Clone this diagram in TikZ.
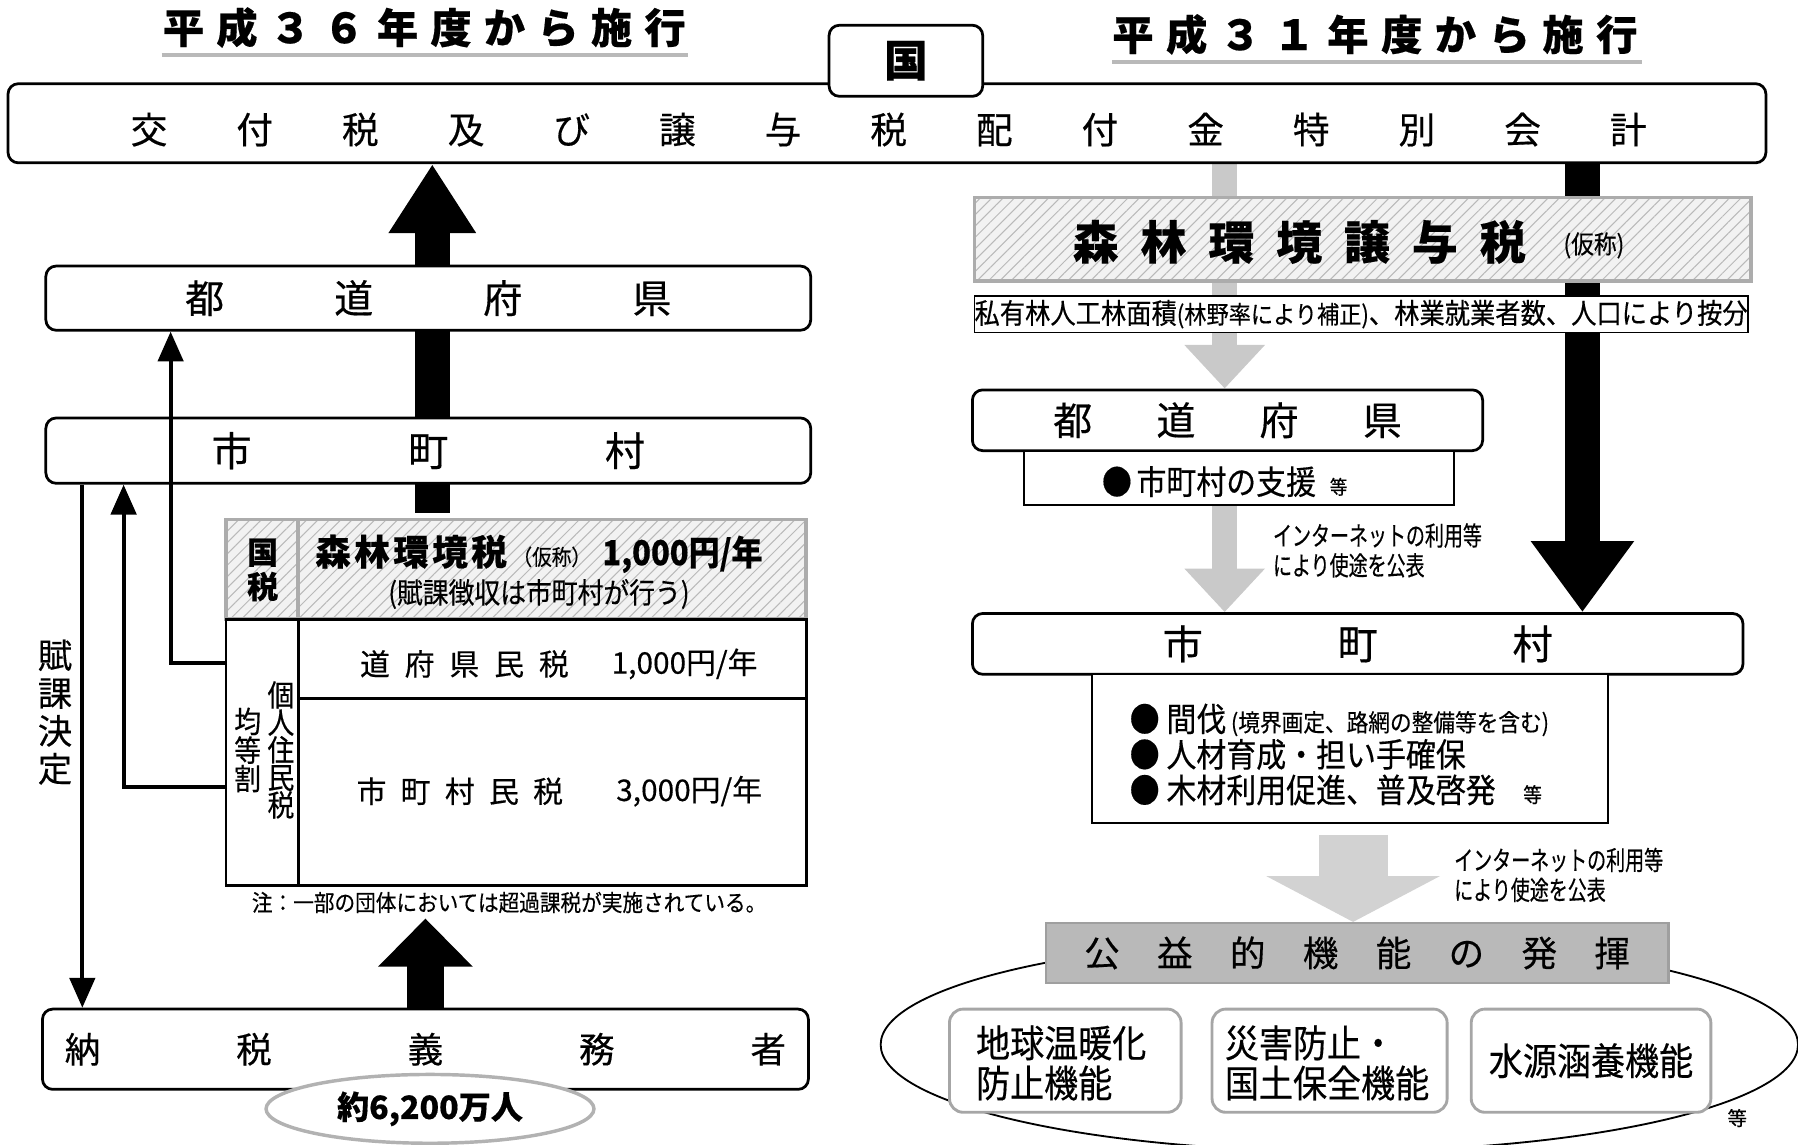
\documentclass[tikz,border=0pt]{standalone}
\usepackage{fontspec}
\setmainfont{Noto Sans CJK JP}[FakeBold=0.4]
\newfontfamily\jpn{Noto Sans CJK JP}[FakeStretch=0.9,FakeBold=0.4]
\newfontfamily\jpc{Noto Sans CJK JP}[FakeStretch=0.72,FakeBold=0.4]
\usetikzlibrary{arrows.meta,patterns.meta,backgrounds,calc,shapes.geometric}
\newcommand{\fs}[1]{\fontsize{#1}{#1}\selectfont}
\newcommand{\fsz}[2]{\fontsize{#1}{#2}\selectfont}
\begin{document}
\begin{tikzpicture}[x=1pt,y=-1pt,
  rbox/.style={draw, line width=2.4pt, rounded corners=9pt, fill=white, inner sep=0pt},
  sbox/.style={draw, line width=2.4pt, fill=white, inner sep=0pt},
  hatch/.style={draw=gray!65, line width=3pt, preaction={fill=gray!10}, pattern={Lines[angle=45,distance=7pt,line width=0.9pt]}, pattern color=gray!55, inner sep=0pt},
  fbox/.style={draw=gray!70, line width=2.5pt, rounded corners=12pt, fill=white, inner sep=0pt},
  txt/.style={inner sep=0pt},
  thinarr/.style={line width=3.5pt, -{Triangle[width=22pt,length=26pt]}},
  blkarr/.style={line width=30pt, -{Triangle[width=72pt,length=60pt]}},
  blkarrb/.style={line width=32pt, -{Triangle[width=80pt,length=42pt]}},
  blkarrc/.style={line width=30pt, -{Triangle[width=86pt,length=62pt]}},
  garr/.style={draw=gray!42, line width=22pt, -{Triangle[width=68pt,length=38pt]}},
  garrb/.style={draw=gray!35, line width=60pt, -{Triangle[width=150pt,length=40pt]}},
  uline/.style={draw=gray!55, line width=4pt}
]
\useasboundingbox (0,0) rectangle (1568,998);

% titles
\node[txt, font=\bfseries\fs{36}] (t36) at (370,24) {\makebox[456pt]{平\hfill 成\hfill ３\hfill ６\hfill 年\hfill 度\hfill か\hfill ら\hfill 施\hfill 行}};
\draw[uline] (141,48) -- (600,48);
\node[txt, font=\bfseries\fs{36}] (t31) at (1199,30) {\makebox[458pt]{平\hfill 成\hfill ３\hfill １\hfill 年\hfill 度\hfill か\hfill ら\hfill 施\hfill 行}};
\draw[uline] (970,54) -- (1432,54);

% top account box
\node[rbox, minimum width=1533pt, minimum height=69pt] (big) at (773.5,107.5) {};
\node[txt, font=\fs{32}] (bigtxt) at (775,113) {\makebox[1322pt]{交\hfill 付\hfill 税\hfill 及\hfill び\hfill 譲\hfill 与\hfill 税\hfill 配\hfill 付\hfill 金\hfill 特\hfill 別\hfill 会\hfill 計}};
\node[rbox, minimum width=134pt, minimum height=62pt, font=\bfseries\fs{38}] (kuni) at (790,53) {国};

% left boxes
\node[rbox, minimum width=667pt, minimum height=56pt] (todoL) at (373.5,260) {\fs{34}\makebox[424pt]{都\hfill 道\hfill 府\hfill 県}};
\node[rbox, minimum width=667pt, minimum height=57pt] (shiL) at (373.5,393) {\fs{35}\makebox[378pt]{市\hfill 町\hfill 村}};

% tax table
\node[hatch, minimum width=63pt, minimum height=87pt] (kokuzei) at (228.5,496.5) {};
\node[txt, font=\bfseries\fsz{27}{30}, align=center] (kokuzeiT) at (229,497) {国\\税};
\node[hatch, minimum width=443pt, minimum height=87pt] (shinrinzei) at (481.5,496.5) {};
\node[txt] (szT1) at (470,483) {{\bfseries\fs{31}森\hspace{3pt}林\hspace{3pt}環\hspace{3pt}境\hspace{3pt}税}\hspace{5pt}{\jpn\fs{19}（仮称）}\hspace{10pt}{\bfseries\jpn\fs{30}1,000円/年}};
\node[txt, font=\jpn\fs{25}] (szT2) at (470,518) {(賦課徴収は市町村が行う)};
\node[sbox, minimum width=63pt, minimum height=232pt] (kinto) at (228.5,656) {};
\node[sbox, minimum width=443pt, minimum height=69pt] (dofu) at (481.5,574.5) {};
\node[sbox, minimum width=443pt, minimum height=163pt] (shizei) at (481.5,690.5) {};
\node[txt, font=\fs{26}] (dofuT) at (405,579) {\makebox[182pt]{道\hfill 府\hfill 県\hfill 民\hfill 税}};
\node[txt, font=\fs{26}] (dofuY) at (597,579) {1,000円/年};
\node[txt, font=\fs{26}] (shiT) at (401,690) {\makebox[180pt]{市\hfill 町\hfill 村\hfill 民\hfill 税}};
\node[txt, font=\fs{26}] (shiY) at (601,690) {3,000円/年};
\node[txt, font=\jpn\fsz{26}{24}, align=center] (kojin) at (245,654) {個\\人\\住\\民\\税};
\node[txt, font=\jpn\fsz{26}{23}, align=center] (kinT) at (216,654) {均\\等\\割};
\node[txt, font=\jpn\fs{20}] (note) at (444,787) {注：一部の団体においては超過課税が実施されている。};

% taxpayers
\node[rbox, minimum width=668pt, minimum height=70pt] (nozei) at (371,915) {\fs{31}\makebox[629pt]{納\hfill 税\hfill 義\hfill 務\hfill 者}};
\node[draw=gray!60, line width=3pt, fill=white, ellipse, minimum width=286pt, minimum height=60pt, inner sep=0pt, font=\bfseries\fs{28}] (ninzu) at (375,967) {約6,200万人};
\node[txt, font=\fsz{30}{33}, align=center] (fuka) at (48,621) {賦\\課\\決\\定};

% left thin arrows
\coordinate (r1) at (198,578);
\coordinate (r1t) at ($(todoL.south west)+(110,0)$);
\draw[thinarr] (r1) -| (r1t);
\coordinate (r2) at (198,686);
\coordinate (r2t) at ($(shiL.south west)+(69,0)$);
\draw[thinarr] (r2) -| (r2t);
\coordinate (f0) at ($(shiL.south west)+(33,0)$);
\draw[thinarr] (f0) -- (f0 |- nozei.north);

% right side
\node[hatch, minimum width=677pt, minimum height=73pt] (shinrinjoyo) at (1188.5,208.5) {};
\node[txt, font=\bfseries\fs{40}] (sjT) at (1133,211) {\makebox[395pt]{森\hfill 林\hfill 環\hfill 境\hfill 譲\hfill 与\hfill 税}};
\node[txt, font=\jpn\fs{22}] (sjK) at (1390,214) {(仮称)};
\node[draw, line width=1.5pt, fill=white, inner sep=0pt, minimum width=674pt, minimum height=32pt] (anbun) at (1187,274) {\jpn\fs{24.5}私有林人工林面積{\fs{21.5}(林野率により補正)}、林業就業者数、人口により按分};

\node[rbox, minimum width=445pt, minimum height=53pt] (todoR) at (1070.5,366.5) {\fs{34}\makebox[304pt]{都\hfill 道\hfill 府\hfill 県}};
\node[sbox, line width=1.8pt, minimum width=375pt, minimum height=47pt] (sub1) at (1080.5,416.5) {};
\node[txt, font=\jpn\fs{29}] (sub1T) at (1068,420) {●\hspace{4pt}市町村の支援\hspace{12pt}{\fs{17}等}};
\node[txt, anchor=west, align=left, font=\jpc\fsz{23}{26}] (net1) at (1110,480) {インターネットの利用等\\により使途を公表};

\node[rbox, minimum width=672pt, minimum height=53pt] (shiR) at (1184,561.5) {\fs{35}\makebox[340pt]{市\hfill 町\hfill 村}};
\node[sbox, line width=1.8pt, minimum width=450pt, minimum height=130pt] (sub2) at (1177,653) {};
\node[txt, anchor=west, align=left, font=\jpn\fsz{29}{31}] (sub2T) at (985,658) {●\hspace{6pt}間伐\hspace{4pt}{\fs{21}(境界画定、路網の整備等を含む)}\\●\hspace{6pt}人材育成・担い手確保\\●\hspace{6pt}木材利用促進、普及啓発\hspace{24pt}{\fs{18}等}};
\node[txt, anchor=west, align=left, font=\jpc\fsz{23}{26}] (net2) at (1268,763) {インターネットの利用等\\により使途を公表};

\node[draw, ellipse, line width=1.6pt, minimum width=800pt, minimum height=186pt, inner sep=0pt] (oval) at (1168,911) {};
\node[draw=gray!75, line width=2pt, fill=gray!55, minimum width=543pt, minimum height=52pt, inner sep=0pt] (koeki) at (1183.5,831) {\fs{31}\makebox[476pt]{公\hfill 益\hfill 的\hfill 機\hfill 能\hfill の\hfill 発\hfill 揮}};
\node[fbox, minimum width=202pt, minimum height=90pt] (f1) at (929,925) {};
\node[txt, anchor=west, align=left, font=\jpn\fsz{33}{35}] (f1T) at (851,927) {地球温暖化\\防止機能};
\node[fbox, minimum width=205pt, minimum height=90pt] (f2) at (1159.5,925) {};
\node[txt, anchor=west, align=left, font=\jpn\fsz{33}{35}] (f2T) at (1068,927) {災害防止・\\国土保全機能};
\node[fbox, minimum width=209pt, minimum height=90pt, font=\jpn\fs{33}] (f3) at (1387.5,925) {水源涵養機能};
\node[txt, font=\fs{17}] (etc) at (1515,975) {等};

% block arrows behind boxes
\begin{scope}[on background layer]
  \coordinate (a1) at (377,447);
  \draw[blkarr] (a1) -- (a1 |- big.south);
  \coordinate (a2) at (371,801);
  \draw[blkarrb] (a2 |- nozei.north) -- (a2);
  \coordinate (a3) at (1380,0);
  \draw[blkarrc] (a3 |- big.south) -- (a3 |- shiR.north);
  \coordinate (g1) at (1068,0);
  \draw[garr] (g1 |- big.south) -- (g1 |- todoR.north);
  \draw[garr] (g1 |- sub1.south) -- (g1 |- shiR.north);
  \coordinate (g3) at (1180,728);
  \draw[garrb] (g3) -- (g3 |- koeki.north);
\end{scope}
\end{tikzpicture}
\end{document}
